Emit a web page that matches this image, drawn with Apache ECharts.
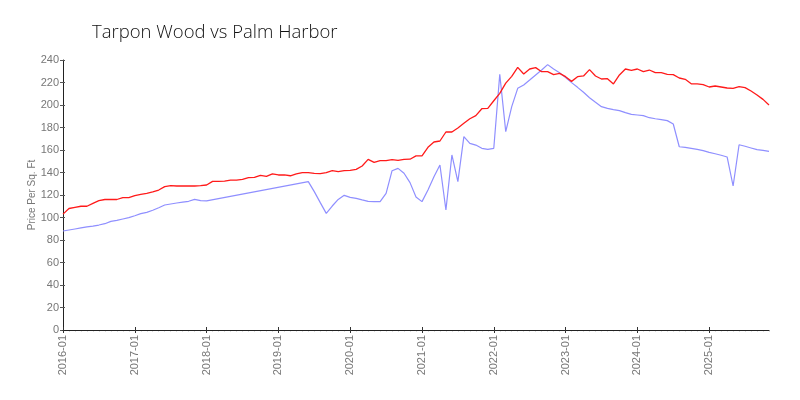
<!DOCTYPE html>
<html>
<head>
<meta charset="utf-8">
<script src="https://cdn.jsdelivr.net/npm/echarts@6/dist/echarts.min.js"></script>
<style>
  html, body { margin: 0; padding: 0; background: #fff; }
  #chart { width: 800px; height: 400px; }
</style>
</head>
<body>
<div id="chart"></div>
<script>
// monthly categories 2016-01 .. 2025-11
const startYear = 2016;
const monthCount = 119;
const months = [];
for (let i = 0; i < monthCount; i++) {
  const y = startYear + Math.floor(i / 12);
  const m = (i % 12) + 1;
  months.push(y + '-' + (m < 10 ? '0' + m : m));
}

const tarponWood = [
  103, 108, 109, 110, 110, 112.6, 115, 116, 116, 116, 117.6, 117.6,
  119.4, 120.6, 121.5, 122.7, 124.4, 127.4, 128.3, 128, 128, 128, 128, 128.3,
  128.9, 132.1, 132.1, 132.4, 133.3, 133.3, 133.9, 135.4, 135.7, 137.5, 136.6, 138.7,
  137.8, 137.8, 137.1, 138.7, 139.9, 139.9, 139.3, 139, 139.9, 141.6, 140.7, 141.6,
  141.9, 142.8, 145.8, 151.7, 149, 150.5, 150.5, 151.4, 150.8, 151.7, 151.8, 154.8,
  154.7, 162.4, 167.1, 168, 176, 176, 179.6, 183.7, 187.8, 190.5, 196.7, 197,
  203.8, 210.4, 219.5, 225.5, 233.5, 227.6, 232, 233.2, 229.6, 229.6, 227, 228.1,
  225.2, 221, 225.2, 225.8, 231.4, 225.8, 223.1, 223.4, 218.7, 226.7, 232, 230.8,
  232, 229.6, 231.1, 228.7, 228.7, 227.3, 227, 224, 222.8, 218.9, 218.7, 218.1,
  216, 216.9, 216, 215.1, 214.8, 216.3, 215.4, 212.4, 208.9, 205, 200
];

const palmHarbor = [
  88, 88.9, 89.8, 90.7, 91.6, 92.4, 93.3, 94.5, 96.6, 97.5, 98.7, 99.9,
  101.6, 103.4, 104.6, 106.4, 108.7, 111.1, 112, 112.9, 113.7, 114.4, 116.1, 115,
  114.8, null, null, null, null, null, null, null, null, null, null, null,
  null, null, null, null, null, 131.9, 123, 113.2, 103.7, 110.2, 116.1, 119.7,
  117.9, 117, 115.6, 114.4, 114.1, 114.1, 121.5, 141.6, 143.7, 139.3, 131, 118.2,
  114.1, 124.4, 136.3, 146.7, 106.7, 155.6, 131.9, 171.9, 165.9, 164.4, 161.5, 160.6,
  161.5, 227.3, 176.3, 198.5, 214.8, 217.8, 222.2, 226.7, 231.1, 235.9, 232, 228.7,
  224.3, 219.9, 215.7, 211.3, 206.5, 202.4, 198.5, 197, 195.9, 195, 193.2, 191.7,
  191.1, 190.5, 188.7, 187.8, 187, 186.1, 183.1, 162.9, 162.4, 161.5, 160.6, 159.4,
  157.9, 156.7, 155.3, 153.8, 128, 164.7, 163.3, 161.8, 160.3, 159.7, 158.8
];

const yMin = 0;
const yMax = 240;
const yStep = 20;

const font = "'Liberation Sans Narrow', 'Liberation Sans', sans-serif";
const chart = echarts.init(document.getElementById('chart'), null, { renderer: 'canvas' });

const baseX = { type: 'category', data: months, boundaryGap: false, position: 'bottom', gridIndex: 0 };
const baseY = { type: 'value', min: yMin, max: yMax, interval: yStep, position: 'left', gridIndex: 0 };

chart.setOption({
  animation: false,
  title: {
    text: 'Tarpon Wood vs Palm Harbor',
    left: 87, top: 18,
    textStyle: { fontFamily: "'Open Sans', sans-serif", fontWeight: 300, fontSize: 18.5, color: '#111' }
  },
  grid: { left: 63, right: 31, top: 60, bottom: 70, containLabel: false },
  xAxis: [
    Object.assign({}, baseX, {
      axisLine: { show: true, lineStyle: { color: '#222', width: 1 } },
      axisTick: { show: true, interval: 11, length: 3, lineStyle: { color: '#333' } },
      axisLabel: { show: true, interval: 11, rotate: 90, color: '#777', fontSize: 11, fontFamily: font, margin: 5 },
      splitLine: { show: false },
      z: 3
    }),
    Object.assign({}, baseX, {
      axisLine: { show: false },
      axisTick: { show: true, interval: 0, length: 2, lineStyle: { color: '#e0e0e0' } },
      axisLabel: { show: false },
      splitLine: { show: false },
      z: 1
    }),
    Object.assign({}, baseX, {
      axisLine: { show: false },
      axisTick: { show: true, inside: true, interval: 11, length: 3, lineStyle: { color: '#333' } },
      axisLabel: { show: false },
      splitLine: { show: false }
    })
  ],
  yAxis: [
    Object.assign({}, baseY, {
      name: 'Price Per Sq. Ft',
      nameLocation: 'middle',
      nameGap: 26,
      nameMoveOverlap: false,
      nameTextStyle: { color: '#777', fontSize: 10, fontFamily: font },
      axisLine: { show: true, lineStyle: { color: '#222', width: 1 } },
      axisTick: { show: true, length: 3, lineStyle: { color: '#555' } },
      axisLabel: { color: '#777', fontSize: 11, fontFamily: font, margin: 4 },
      splitLine: { show: false }
    }),
    Object.assign({}, baseY, {
      axisLine: { show: false },
      axisTick: { show: true, inside: true, length: 2, lineStyle: { color: '#555' } },
      axisLabel: { show: false },
      splitLine: { show: false }
    })
  ],
  series: [
    {
      name: 'Palm Harbor',
      type: 'line',
      data: palmHarbor,
      connectNulls: true,
      showSymbol: false,
      lineStyle: { color: '#8f8fff', width: 1.2 },
      itemStyle: { color: '#8f8fff' },
      z: 2
    },
    {
      name: 'Tarpon Wood',
      type: 'line',
      data: tarponWood,
      showSymbol: false,
      lineStyle: { color: '#ff1a1a', width: 1.3 },
      itemStyle: { color: '#ff1a1a' },
      z: 3
    }
  ]
});
</script>
</body>
</html>
